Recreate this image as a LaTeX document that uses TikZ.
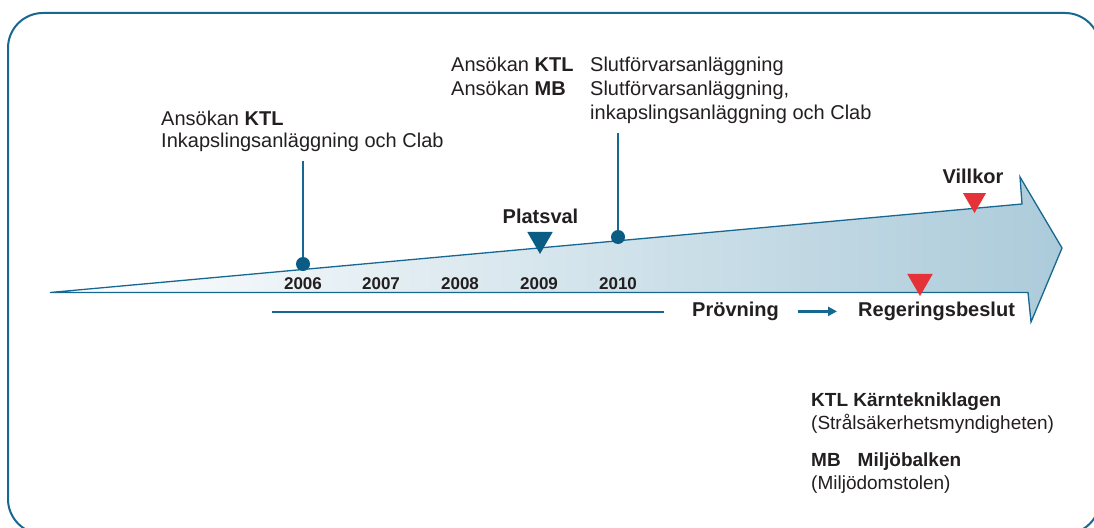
\documentclass[tikz,border=0pt]{standalone}
\usepackage{fontspec}
\setmainfont{Liberation Sans}
\usetikzlibrary{arrows.meta,shapes.geometric}

\definecolor{lineblue}{RGB}{22,104,145}
\definecolor{dotblue}{RGB}{10,92,132}
\definecolor{shaftblue}{RGB}{172,203,218}
\definecolor{markred}{RGB}{229,50,56}
\definecolor{txtgray}{RGB}{35,31,32}

\tikzset{
  lbl/.style={inner sep=0pt, text=txtgray, align=left, font=\fontsize{20}{22}\selectfont},
  widelbl/.style={lbl, font=\fontsize{20}{24}\selectfont},
  keylbl/.style={lbl, font=\fontsize{19}{23}\selectfont},
  boldlbl/.style={inner sep=0pt, text=txtgray, font=\fontsize{20}{22}\selectfont\bfseries},
  yearlbl/.style={inner sep=0pt, text=txtgray, font=\fontsize{17}{20}\selectfont\bfseries},
  dot/.style={circle, fill=dotblue, minimum size=14pt, inner sep=0pt},
  stem/.style={draw=lineblue, line width=2.5pt},
  tri/.style={regular polygon, regular polygon sides=3, shape border rotate=180, inner sep=0pt, outer sep=0pt},
}

\begin{document}
\begin{tikzpicture}[x=1pt,y=-1pt]
\useasboundingbox (0,0) rectangle (1094,527);

%Shape: Rounded frame
\draw[lineblue, line width=2pt, rounded corners=35pt] (8,13) rectangle (1100,534);

%Shape: Time arrow
\path[draw=lineblue, line width=1.3pt, left color=white, right color=shaftblue]
  (50,292.5) -- (1028,292.5) -- (1031,322) -- (1062,248) -- (1020,177) -- (1022,204) -- cycle;

%Straight Lines: review period
\coordinate (pstart) at (272,312);
\coordinate (pend) at (664,312);
\draw[lineblue, line width=1.2pt] (pstart) -- (pend);

% Years
\foreach \yr/\xx in {2006/303, 2007/381, 2008/460, 2009/539, 2010/618}
  \node[yearlbl, anchor=base] (y\yr) at (\xx,289) {\yr};

% Dots and stems
\node[dot] (d2006) at (303,264) {};
\coordinate (top2006) at (303,161);
\draw[stem] (d2006) -- (top2006);
\node[dot] (d2010) at (618,237) {};
\coordinate (top2010) at (618,133);
\draw[stem] (d2010) -- (top2010);

% Markers
\node[tri, fill=dotblue, minimum size=29.4pt] (platsmark) at (540,239.3) {};
\node[tri, fill=markred, minimum size=26.7pt] (villmark) at (974.5,199.7) {};
\node[tri, fill=markred, minimum size=29.4pt] (regmark) at (920,281.3) {};

% Text Node
\node[lbl, anchor=north west] (ktlclab) at (161,111) {Ansökan \textbf{KTL}\\Inkapslingsanläggning och Clab};
% Text Node
\node[widelbl, anchor=north west] (ansokan) at (451,56.5) {Ansökan \textbf{KTL}\\Ansökan \textbf{MB}};
% Text Node
\node[widelbl, anchor=north west] (slutforvar) at (590,56.5) {Slutförvarsanläggning\\Slutförvarsanläggning,\\inkapslingsanläggning och Clab};
% Text Node
\node[boldlbl, anchor=base] (platsval) at (540.5,223) {Platsval};
% Text Node
\node[boldlbl, anchor=base] (villkor) at (973,183) {Villkor};
% Text Node
\node[boldlbl, anchor=base west] (provning) at (692,316.5) {Prövning};
% Text Node
\node[boldlbl, anchor=base west] (regering) at (858,316.5) {Regeringsbeslut};
\draw[lineblue, line width=2.5pt, -{Triangle[length=9pt,width=9pt]}, shorten <=18.5pt, shorten >=21pt] (provning.east) -- (regering.west);

% Legend
\node[keylbl, anchor=north west] (ktlkey) at (811,393) {\textbf{KTL Kärntekniklagen}\\(Strålsäkerhetsmyndigheten)};
\node[keylbl, anchor=north west] (mbkey) at (811,453) {\textbf{MB\hspace{17pt}Miljöbalken}\\(Miljödomstolen)};

\end{tikzpicture}
\end{document}
